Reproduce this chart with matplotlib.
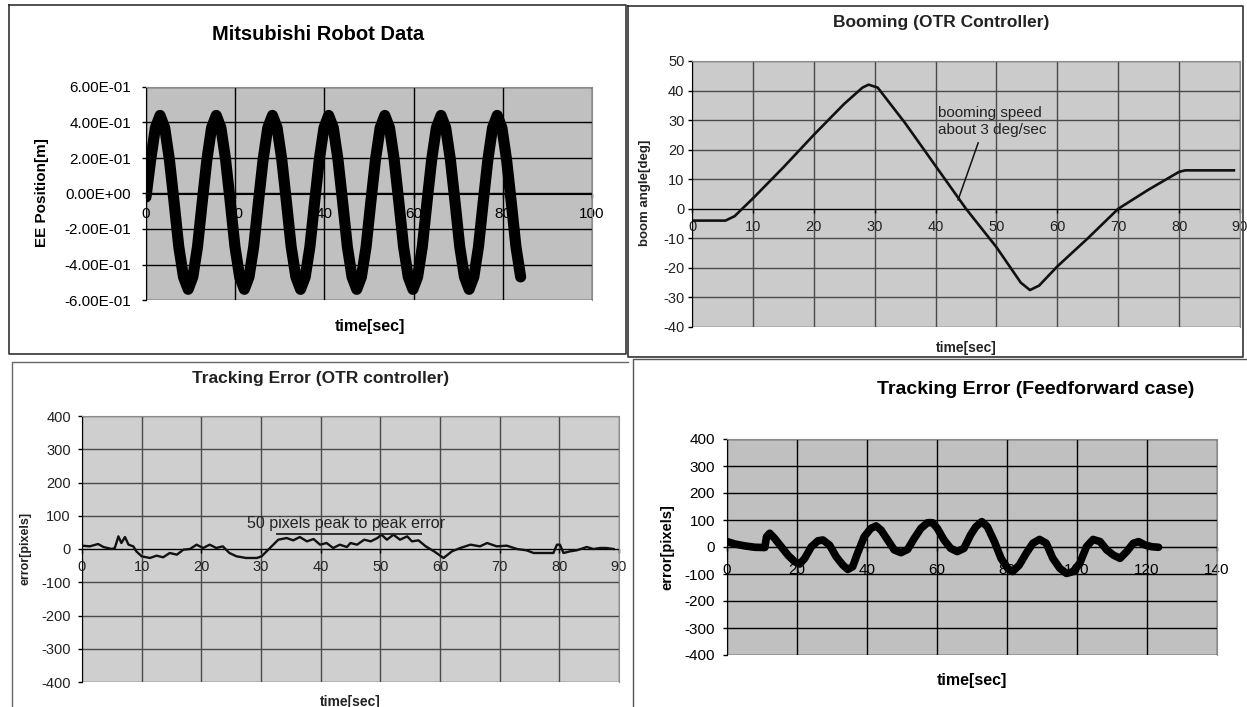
# Four Excel-style panels: robot data, booming angle, tracking errors
import numpy as np
import matplotlib.pyplot as plt
from matplotlib.lines import Line2D

plt.rcParams['font.family'] = ['Liberation Sans', 'DejaVu Sans']
plt.rcParams['axes.unicode_minus'] = False

W, H = 1247, 707

# ---- data ----
# Mitsubishi robot: EE position [m], one sample every ROBOT_DT seconds
ROBOT_DT = 1.05
robot_pos = [
    -0.02, 0.19, 0.37, 0.44, 0.37, 0.19, -0.05, -0.30, -0.47, -0.54, -0.47, -0.30,
    -0.05, 0.19, 0.37, 0.44, 0.37, 0.19, -0.05, -0.30, -0.47, -0.54, -0.47, -0.30,
    -0.05, 0.19, 0.37, 0.44, 0.37, 0.19, -0.05, -0.30, -0.47, -0.54, -0.47, -0.30,
    -0.05, 0.19, 0.37, 0.44, 0.37, 0.19, -0.05, -0.30, -0.47, -0.54, -0.47, -0.30,
    -0.05, 0.19, 0.37, 0.44, 0.37, 0.19, -0.05, -0.30, -0.47, -0.54, -0.47, -0.30,
    -0.05, 0.19, 0.37, 0.44, 0.37, 0.19, -0.05, -0.30, -0.47, -0.54, -0.47, -0.30,
    -0.05, 0.19, 0.37, 0.44, 0.37, 0.19, -0.05, -0.30, -0.47,
]

# Booming (OTR controller): boom angle [deg]
boom_t = [0, 5.5, 7, 10, 15, 20, 25, 28, 29, 30.5, 35, 40, 45, 50, 54, 55.5,
          57, 60, 65, 70, 75, 80, 81, 89]
boom_deg = [-4, -4, -2.5, 3.5, 14, 25, 35.5, 41, 42, 41, 29, 14.5, 0, -13, -25, -27.5,
            -26, -19.5, -10, 0, 6.5, 12.5, 13, 13]

# Tracking error, OTR controller [pixels]
otr_t = [0, 1.3, 2.7, 3.6, 5.0, 5.5, 6.1, 6.6, 7.2, 7.8, 8.6, 9.1, 10, 11.4, 12.5,
         13.6, 14.7, 15.9, 17, 18.1, 19.2, 20.3, 21.4, 22.5, 23.6, 24.7, 25.9, 27.5,
         29.3, 30.1, 31.5, 32.9, 34.3, 35.4, 36.5, 37.7, 38.8, 39.9, 41, 42.1, 43.2,
         44.4, 45, 46.1, 47.3, 48.4, 49.5, 50.2, 51.1, 52.2, 53.3, 54.5, 55.3, 56.4,
         57.6, 59, 60.6, 62, 63.4, 65.1, 66.7, 67.9, 69.5, 71.2, 72.9, 74.5, 75.7,
         77.4, 79, 79.6, 80.1, 80.7, 81.8, 82.9, 84.6, 85.7, 86.8, 87.9, 89.1]
otr_err = [10, 8, 15, 6, 0, 3, 38, 18, 36, 13, 8, -7, -22, -27, -20,
           -25, -12, -17, -2, 0, 13, 3, 13, 3, 8, -12, -22, -27,
           -27, -22, 3, 28, 33, 26, 36, 23, 30, 13, 18, 3, 13,
           6, 18, 13, 28, 23, 33, 43, 28, 43, 28, 38, 23, 26,
           8, -7, -27, -7, 3, 13, 8, 18, 8, 10, 0, -4, -12,
           -12, -12, 13, 13, -12, -7, -4, 6, 0, 3, 3, 0]

# Tracking error, feedforward case [pixels]
ff_t = [0, 2.3, 5.1, 8, 10.8, 11.3, 12.2, 13.6, 15.5, 17.4, 19.3, 20.8, 22.2, 24.1,
        26, 27.4, 29.3, 31.2, 33.1, 34.5, 35.9, 37.3, 39.2, 41.1, 42.6, 44, 45.9,
        47.8, 49.7, 51.6, 53.5, 55.4, 57.3, 58.7, 60.1, 62, 63.9, 65.8, 67.7, 69.6,
        71.1, 72.8, 74.4, 76.4, 78.3, 80.2, 81.6, 83.5, 85.5, 87.4, 89.3, 91.2, 93.1,
        95.1, 97, 98.9, 100.8, 102.7, 104.6, 106.6, 108.5, 110.4, 112.3, 114.2,
        116.1, 117.6, 119.5, 121.4, 123.3]
ff_err = [20, 11, 4, -1, -2, 38, 51, 32, 1, -30, -54, -63, -42, 1,
          23, 26, 7, -36, -67, -83, -73, -23, 38, 69, 78, 63, 26,
          -11, -21, -9, 32, 69, 90, 90, 69, 26, -5, -17, -5, 45,
          75, 94, 75, 20, -42, -79, -91, -67, -23, 14, 28, 14, -42,
          -79, -98, -91, -60, 1, 28, 20, -11, -30, -42, -17,
          14, 20, 7, 1, -1]

robot_ylabels = ['-6.00E-01', '-4.00E-01', '-2.00E-01', '0.00E+00',
                 '2.00E-01', '4.00E-01', '6.00E-01']

fig = plt.figure(figsize=(W / 100, H / 100), dpi=100)


def px_text(x, y, s, **kw):
    kw.setdefault('ha', 'center')
    kw.setdefault('va', 'center')
    fig.text(x / W, 1 - y / H, s, **kw)


def px_line(xs, ys, color='#333333', lw=1.2):
    fig.add_artist(Line2D([x / W for x in xs], [1 - y / H for y in ys],
                          transform=fig.transFigure, color=color, lw=lw))


def excel_axes(left, top, right, bottom, xlim, xstep, ylim, ystep,
               face, gridc, fs, ypad, xpad, labelc='black'):
    ax = fig.add_axes([left / W, 1 - bottom / H, (right - left) / W, (bottom - top) / H])
    ax.set_facecolor(face)
    ax.set_xlim(*xlim)
    ax.set_ylim(*ylim)
    ax.set_xticks(np.arange(xlim[0], xlim[1] + xstep * 0.5, xstep))
    ax.set_yticks(np.arange(ylim[0], ylim[1] + ystep * 0.5, ystep))
    ax.set_axisbelow(True)
    ax.grid(True, color=gridc, lw=1.0)
    ax.spines['bottom'].set_position(('data', 0))
    ax.spines['bottom'].set_zorder(1)
    for s in ('top', 'right'):
        ax.spines[s].set_color('#8c8c8c')
        ax.spines[s].set_linewidth(0.8)
    ax.tick_params(axis='both', direction='out', length=3, width=1,
                   labelsize=fs, labelcolor=labelc)
    ax.tick_params(axis='y', pad=ypad)
    ax.tick_params(axis='x', pad=xpad)
    return ax


# frames around the four pasted charts
px_line([9, 626, 626, 9, 9], [5, 5, 354, 354, 5])
px_line([628, 1243, 1243, 628, 628], [6, 6, 357, 357, 6])
px_line([12, 12, 628], [707, 362, 362], color='#666666', lw=1.0)
px_line([633, 633, 1247], [707, 359, 359], color='#555555', lw=1.0)

# ---- Mitsubishi Robot Data ----
ax1 = excel_axes(146, 87, 592, 300, (0, 100), 20, (-0.6, 0.6), 0.2,
                 '#c0c0c0', 'black', 11, 7.8, 7)
ax1.set_yticklabels(robot_ylabels)
robot_t = np.arange(len(robot_pos)) * ROBOT_DT
ax1.plot(robot_t, robot_pos, color='black', lw=8,
         solid_capstyle='round', solid_joinstyle='round')
px_text(318, 35, 'Mitsubishi Robot Data', fontsize=14.5, fontweight='bold')
px_text(42, 193, 'EE Position[m]', fontsize=11, fontweight='bold', rotation=90)
px_text(370, 327, 'time[sec]', fontsize=11.5, fontweight='bold')

# ---- Booming (OTR Controller) ----
ax2 = excel_axes(692, 61, 1240, 327, (0, 90), 10, (-40, 50), 10,
                 '#cbcbcb', '#4a4a4a', 10.5, 2.5, 5.0, labelc='#222222')
ax2.plot(boom_t, boom_deg, color='#111111', lw=1.9, solid_joinstyle='round')
ax2.text(40.4, 29.5, 'booming speed\nabout 3 deg/sec', fontsize=11,
         color='#222222', ha='left', va='center', linespacing=1.25)
ax2.plot([47.0, 43.7], [22.3, 3.0], color='#111111', lw=1.1)
px_text(941, 23, 'Booming (OTR Controller)', fontsize=12.5, fontweight='bold',
        color='#222222')
px_text(645, 193, 'boom angle[deg]', fontsize=9.5, fontweight='bold', rotation=90,
        color='#222222')
px_text(966, 348, 'time[sec]', fontsize=10, fontweight='bold', color='#222222')

# ---- Tracking Error (OTR controller) ----
ax3 = excel_axes(82, 416, 619, 682, (0, 90), 10, (-400, 400), 100,
                 '#cfcfcf', '#4a4a4a', 10.5, 5.0, 5.0, labelc='#222222')
ax3.plot(otr_t, otr_err, color='#111111', lw=1.7, solid_joinstyle='round')
ax3.text(44.3, 78, '50 pixels peak to peak error', fontsize=11.5,
         color='#222222', ha='center', va='center')
ax3.plot([32.7, 56.8], [45, 45], color='#222222', lw=1.3)
px_text(321, 378, 'Tracking Error (OTR controller)', fontsize=12.5,
        fontweight='bold', color='#222222')
px_text(26, 548, 'error[pixels]', fontsize=9, fontweight='bold', rotation=90,
        color='#222222')
px_text(350, 702, 'time[sec]', fontsize=10, fontweight='bold', color='#222222')

# ---- Tracking Error (Feedforward case) ----
ax4 = excel_axes(727, 439, 1217, 655, (0, 140), 20, (-400, 400), 100,
                 '#c0c0c0', 'black', 11, 5.6, 8.5)
ax4.plot(ff_t, ff_err, color='black', lw=5.5,
         solid_capstyle='round', solid_joinstyle='round')
px_text(1036, 390, 'Tracking Error (Feedforward case)', fontsize=14,
        fontweight='bold')
px_text(667, 547, 'error[pixels]', fontsize=10.5, fontweight='bold', rotation=90)
px_text(972, 680, 'time[sec]', fontsize=11.5, fontweight='bold')

fig.savefig('out.png', dpi=100)
